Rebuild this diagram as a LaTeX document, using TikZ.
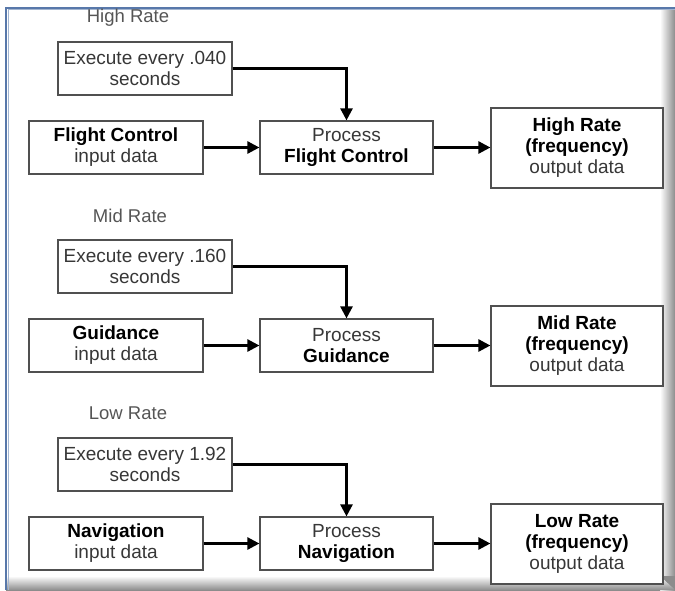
\documentclass[tikz,border=0pt]{standalone}
\usepackage{fontspec}
\setmainfont{Liberation Sans}
\usetikzlibrary{arrows.meta}
\definecolor{frameblue}{RGB}{88,120,170}
\definecolor{boxline}{RGB}{80,80,80}
\definecolor{plaintext}{RGB}{55,55,55}
\definecolor{labeltext}{RGB}{85,85,85}
\tikzset{
  box/.style={draw=boxline, line width=1.2pt, fill=white, inner sep=0pt,
    align=center, text=plaintext, font=\fontsize{19}{21}\selectfont},
  ratebox/.style={box, minimum width=174pt, minimum height=53pt},
  procbox/.style={box, minimum width=173pt, minimum height=53pt},
  outbox/.style={box, minimum width=172pt, minimum height=80pt},
  ratelabel/.style={text=labeltext, font=\fontsize{18.5}{21}\selectfont, inner sep=0pt},
  flow/.style={line width=2.6pt, -{Triangle[length=12pt,width=12pt]}}
}
\newcommand{\hb}[1]{\textcolor{black}{\textbf{#1}}}
\begin{document}
\begin{tikzpicture}[x=1pt,y=-1pt]
\useasboundingbox (0,0) rectangle (675,590);
% panel with bevelled right and bottom edges
\fill[white] (0,0) rectangle (675,590);
\shade[left color=white, right color=black!45] (660,8) rectangle (675,590);
\shade[top color=white, bottom color=black!45] (6,576) rectangle (660,590);
\fill[black!45] (660,576) -- (675,576) -- (675,590) -- cycle;
\shade[top color=white, bottom color=black!45] (660,576) -- (660,590) -- (675,590) -- cycle;
\draw[frameblue!55, line width=1pt] (7.5,9.5) -- (675,9.5);
\draw[frameblue!55, line width=1pt] (8.5,9.5) -- (8.5,590);
\draw[frameblue, line width=1.8pt] (6,8) -- (675,8);
\draw[frameblue, line width=1.8pt] (6,7.1) -- (6,590);

% ---------- high rate ----------
\node[ratelabel] (rateH) at (128,18) {High Rate};
\node[ratebox] (execH) at (145,68.5) {Execute every .040\\seconds};
\node[ratebox] (inH) at (116,147.5) {\hb{Flight Control}\\input data};
\node[procbox] (procH) at (346.5,147.5) {Process\\\hb{Flight Control}};
\node[outbox] (outH) at (577,148) {\hb{High Rate}\\\hb{(frequency)}\\output data};
\draw[flow] (execH.east) -| (procH.north);
\draw[flow] (inH.east) -- (procH.west);
\draw[flow] (procH.east) -- (procH.east -| outH.west);

% ---------- mid rate ----------
\node[ratelabel] (rateM) at (130,216) {Mid Rate};
\node[ratebox] (execM) at (145,266.5) {Execute every .160\\seconds};
\node[ratebox] (inM) at (116,345.5) {\hb{Guidance}\\input data};
\node[procbox] (procM) at (346.5,345.5) {Process\\\hb{Guidance}};
\node[outbox] (outM) at (577,346) {\hb{Mid Rate}\\\hb{(frequency)}\\output data};
\draw[flow] (execM.east) -| (procM.north);
\draw[flow] (inM.east) -- (procM.west);
\draw[flow] (procM.east) -- (procM.east -| outM.west);

% ---------- low rate ----------
\node[ratelabel] (rateL) at (128,413) {Low Rate};
\node[ratebox] (execL) at (145,464.5) {Execute every 1.92\\seconds};
\node[ratebox] (inL) at (116,543.5) {\hb{Navigation}\\input data};
\node[procbox] (procL) at (346.5,543.5) {Process\\\hb{Navigation}};
\node[outbox] (outL) at (577,544) {\hb{Low Rate}\\\hb{(frequency)}\\output data};
\draw[flow] (execL.east) -| (procL.north);
\draw[flow] (inL.east) -- (procL.west);
\draw[flow] (procL.east) -- (procL.east -| outL.west);
\end{tikzpicture}
\end{document}
